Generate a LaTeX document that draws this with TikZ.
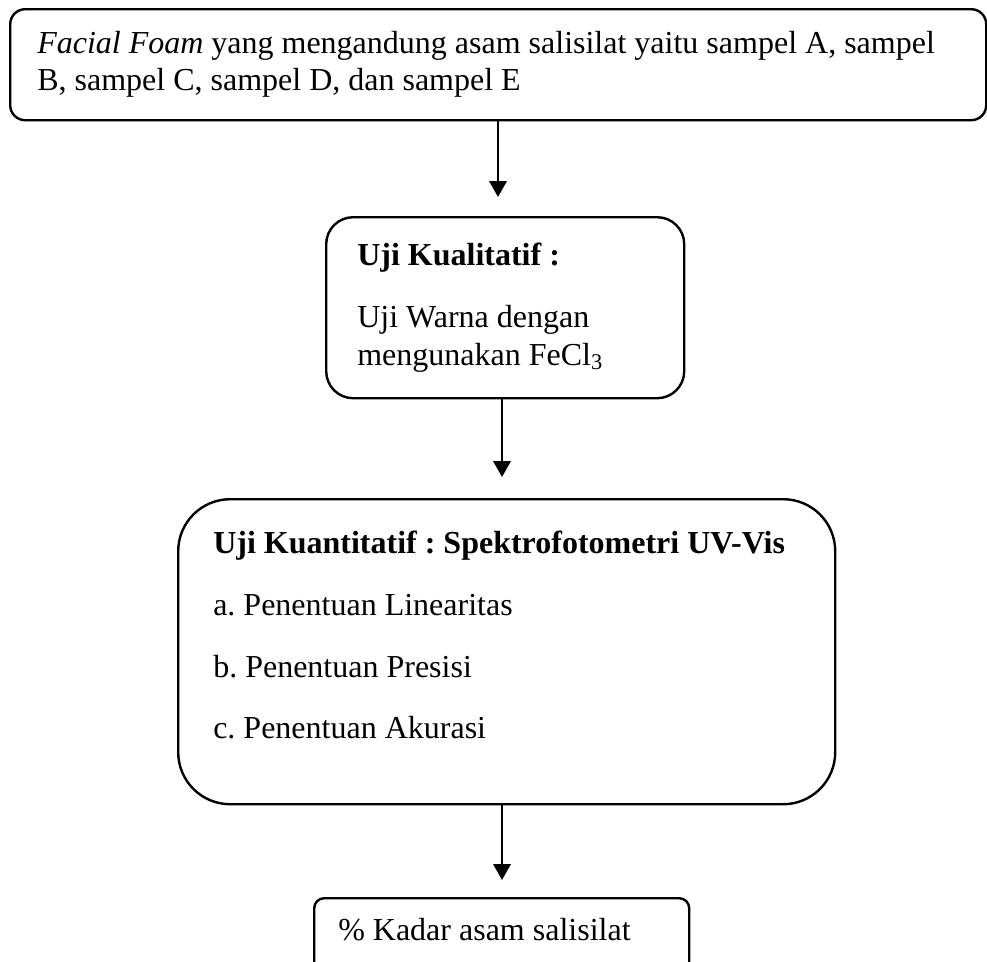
\documentclass[tikz,border=0pt]{standalone}
\usepackage{fontspec}
\setmainfont{Liberation Serif}
\usetikzlibrary{arrows.meta}
\frenchspacing
\begin{document}
\begin{tikzpicture}[x=0.75pt,y=-0.75pt,
  box/.style={draw, line width=1.8pt, inner sep=0pt, anchor=north west},
  txt/.style={anchor=base west, inner sep=0pt, font=\fontsize{24}{27.6}\selectfont},
  arr/.style={line width=1.9pt, -{Triangle[width=13pt,length=12pt]}}]
\clip (0,0) rectangle (987,961);
\useasboundingbox (0,0) rectangle (987,961);
% boxes
\node[box, rounded corners=11.25pt, minimum width=732pt, minimum height=83.25pt] (b1) at (9,8) {};
\node[box, rounded corners=20.25pt, minimum width=268.5pt, minimum height=135.75pt] (b2) at (325,216) {};
\node[box, rounded corners=39pt, minimum width=492.75pt, minimum height=228.75pt] (b3) at (177,498) {};
\node[box, rounded corners=7.5pt, minimum width=281.25pt, minimum height=60pt] (b4) at (313,897) {};
% texts
\node[txt] (t1a) at (37,53) {\textit{Facial Foam} yang mengandung asam salisilat yaitu sampel A, sampel};
\node[txt] (t1b) at (37,90) {B, sampel C, sampel D, dan sampel E};
\node[txt] (t2a) at (357,265) {\textbf{Uji Kualitatif :}};
\node[txt] (t2b) at (357,327) {Uji Warna dengan};
\node[txt] (t2c) at (357,365) {mengunakan FeCl\textsubscript{3}};
\node[txt] (t3a) at (213,553) {\textbf{Uji Kuantitatif : Spektrofotometri UV-Vis}};
\node[txt] (t3b) at (213,615) {a. Penentuan Linearitas};
\node[txt] (t3c) at (213,677) {b. Penentuan Presisi};
\node[txt] (t3d) at (213,738) {c. Penentuan Akurasi};
\node[txt] (t4) at (338,940) {\%\ Kadar asam salisilat};
% arrows
\coordinate (e1) at (498,197);
\coordinate (e2) at (502,477);
\coordinate (e3) at (502,880);
\draw[arr] (b1.south -| e1) -- (e1);
\draw[arr] (b2.south -| e2) -- (e2);
\draw[arr] (b3.south -| e3) -- (e3);
\end{tikzpicture}
\end{document}
